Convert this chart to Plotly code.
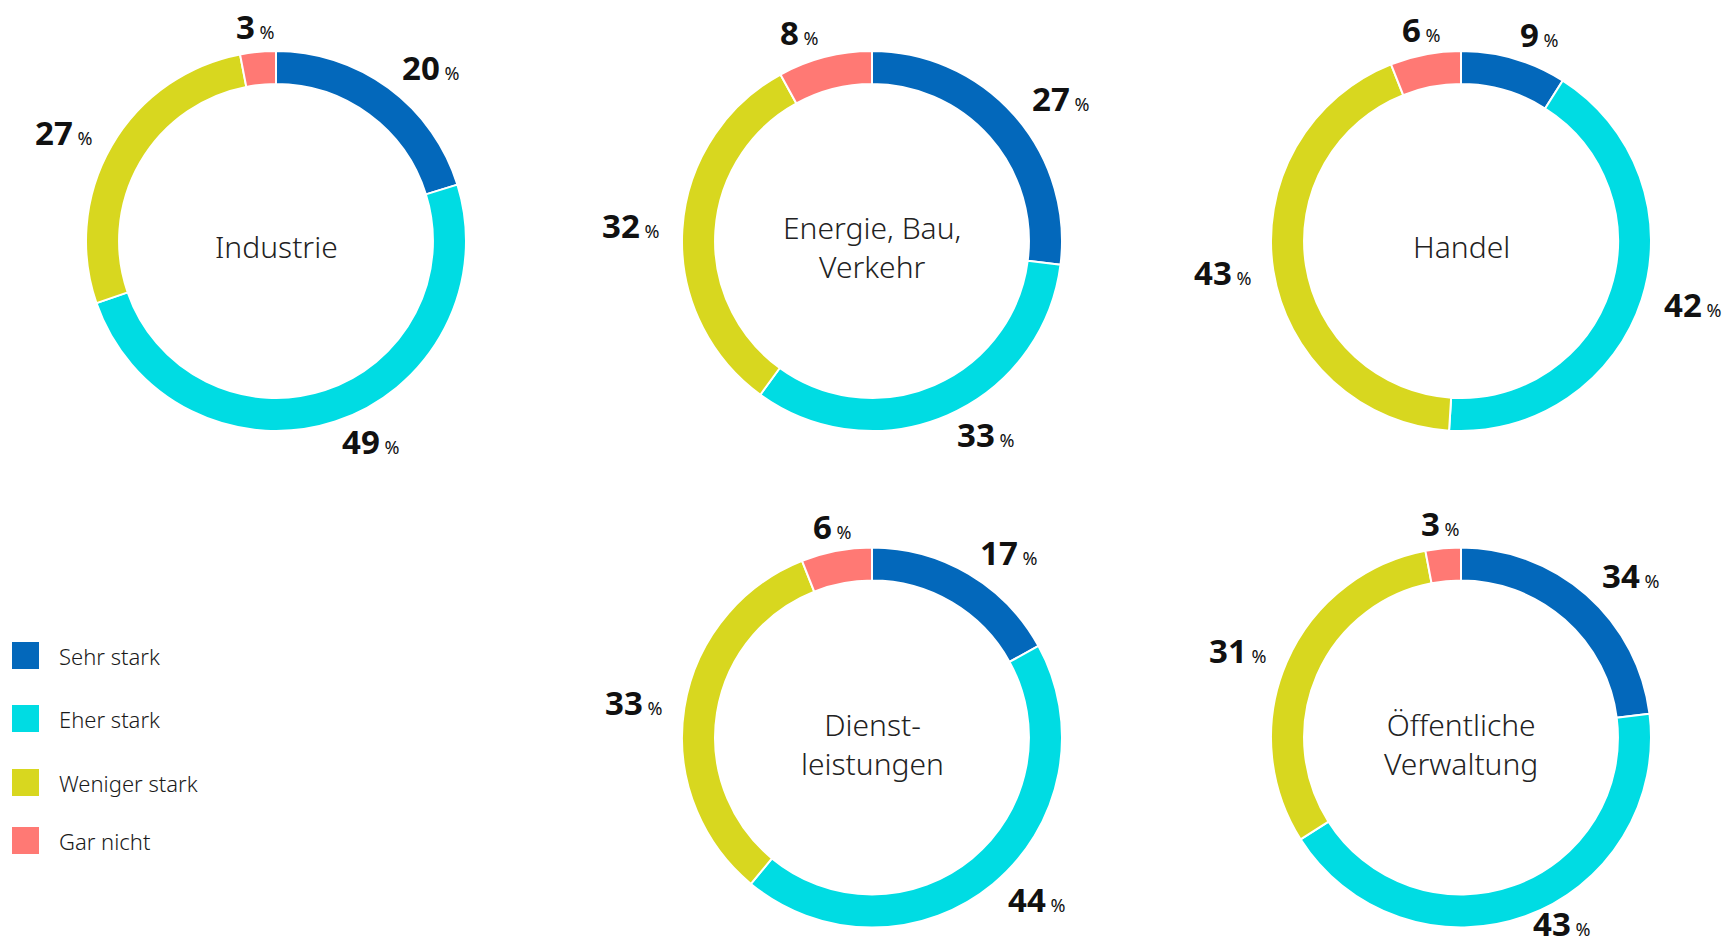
import math
import plotly.graph_objects as go

W, H = 1729, 948

categories = ["Sehr stark", "Eher stark", "Weniger stark", "Gar nicht"]
colors = ["#0368BB", "#00DCE3", "#D8D71F", "#FF7974"]

sectors = ["Industrie", "Energie, Bau,<br>Verkehr", "Handel",
           "Dienst-<br>leistungen", "Öffentliche<br>Verwaltung"]

# drawn slice shares (read from arc lengths)
industrie = [20, 49, 27, 3]
energie = [27, 33, 32, 8]
handel = [9, 42, 43, 6]
dienstleistungen = [17, 44, 33, 6]
verwaltung = [23, 43, 31, 3]
# printed percentages
industrie_lbl = [20, 49, 27, 3]
energie_lbl = [27, 33, 32, 8]
handel_lbl = [9, 42, 43, 6]
dienstleistungen_lbl = [17, 44, 33, 6]
verwaltung_lbl = [34, 43, 31, 3]

series = [industrie, energie, handel, dienstleistungen, verwaltung]
printed = [industrie_lbl, energie_lbl, handel_lbl, dienstleistungen_lbl, verwaltung_lbl]

# layout: pie centres in pixels
centres = [(276, 241), (872, 241), (1461, 241), (872, 737.5), (1461, 737.5)]
R = 190
R_LABEL = 213

FONT = "Noto Sans"
fig = go.Figure()
annotations = []


def px(x):
    return x / W


def py(y):
    return 1 - y / H


for name, vals, lbls, (cx, cy) in zip(sectors, series, printed, centres):
    fig.add_trace(go.Pie(
        labels=categories,
        values=vals,
        textinfo="none",
        hole=0.826,
        sort=False,
        direction="clockwise",
        rotation=0,
        marker=dict(colors=colors, line=dict(color="white", width=2)),
        domain=dict(x=[px(cx - R), px(cx + R)], y=[py(cy + R), py(cy - R)]),
        showlegend=False,
        hoverinfo="label+percent",
    ))
    # centre label
    annotations.append(dict(
        text=name, xref="paper", yref="paper", x=px(cx), y=py(cy),
        xanchor="center", yanchor="middle", yshift=-6, showarrow=False,
        font=dict(family=FONT, size=30, color="#222222", weight=300),
    ))
    # value labels, positioned from the slice mid-angles
    total = sum(vals)
    cum = 0
    for v, lab in zip(vals, lbls):
        theta = 2 * math.pi * (cum + v / 2) / total
        cum += v
        s, c = math.sin(theta), math.cos(theta)
        ly = cy - R_LABEL * c
        dy = ly - cy
        if abs(s) < 0.2:
            lx = cx + R_LABEL * s
            xa = "center"
        else:
            dx = math.sqrt(max(R_LABEL ** 2 - dy ** 2, 0))
            lx = cx + (dx if s > 0 else -dx)
            xa = "left" if s > 0 else "right"
        ly = min(ly - 2, H - 25)
        annotations.append(dict(
            text=f"<b>{lab}</b><span style='font-size:18px'> %</span>",
            xref="paper", yref="paper", x=px(lx), y=py(ly),
            xanchor=xa, yanchor="middle", showarrow=False,
            borderpad=0, borderwidth=0,
            font=dict(family=FONT, size=33, color="#111111"),
        ))

# manual legend
leg_y = [655.5, 718.5, 782.5, 840.5]
shapes = []
for cat, col, yc in zip(categories, colors, leg_y):
    shapes.append(dict(type="rect", xref="paper", yref="paper",
                       x0=px(12), x1=px(39),
                       y0=py(yc + 13.5), y1=py(yc - 13.5),
                       fillcolor=col, line=dict(width=0)))
    annotations.append(dict(text=cat, xref="paper", yref="paper",
                            x=px(57), y=py(yc), xanchor="left", yanchor="middle",
                            showarrow=False,
                            font=dict(family=FONT, size=22, color="#1a1a1a", weight=300)))

fig.update_layout(
    width=W, height=H,
    margin=dict(l=0, r=0, t=0, b=0),
    paper_bgcolor="white",
    plot_bgcolor="white",
    shapes=shapes,
    annotations=annotations,
)

fig.write_html("out.html")
